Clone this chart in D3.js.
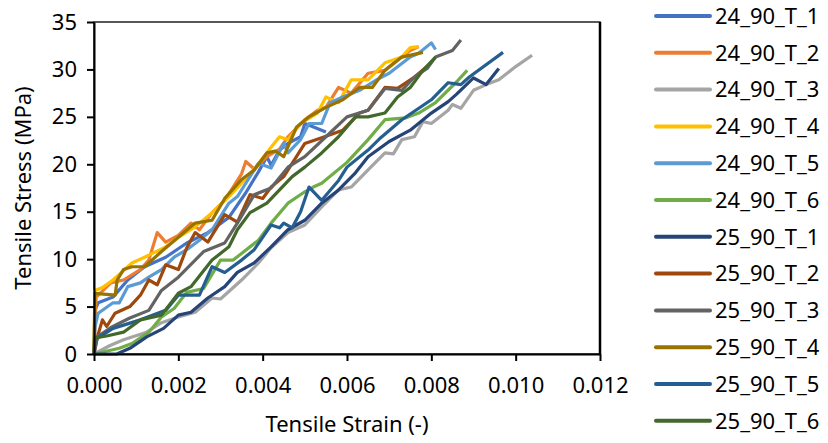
<!DOCTYPE html>
<html>
<head>
  <meta charset="utf-8">
  <title>tensile</title>
  <style>
    * { padding: 0; margin: 0; }
    body { background: #fff; }
    svg text { font-family: "Noto Sans", sans-serif; fill: #000; }
    .axis path, .axis line { stroke: #000; stroke-width: 2; }
    .axis text { font-size: 22px; }
    .series { fill: none; stroke-width: 3.2; stroke-linejoin: round; }
  </style>
</head>
<body>
  <svg id="svg"></svg>
  <script src="https://cdnjs.cloudflare.com/ajax/libs/d3/7.8.5/d3.min.js"></script>
  <script>
    // [strain, stress]
    const s24_1 = [[0,0],[0.00002,4.6],[0.0001,5.4],[0.00045,6.0],[0.0008,7.8],[0.0012,9.2],[0.0017,10.2],[0.0022,11.7],[0.0027,12.8],[0.0032,14.4],[0.0036,17.0],[0.0039,19.2],[0.0041,20.8],[0.0042,19.9],[0.0044,21.5],[0.0046,22.2],[0.0049,22.9],[0.0050,24.3],[0.0055,23.4]];
    const s24_2 = [[0,0],[0.00005,6.0],[0.0004,7.5],[0.0007,7.8],[0.0011,8.9],[0.0013,9.9],[0.0015,12.8],[0.0017,11.8],[0.0020,12.5],[0.0023,13.8],[0.0025,13.1],[0.0028,14.9],[0.0031,16.2],[0.0033,17.6],[0.0035,19.0],[0.0036,20.3],[0.0038,19.5],[0.0041,20.8],[0.0044,21.6],[0.0046,22.9],[0.0050,24.7],[0.0053,25.7],[0.0055,26.0],[0.0058,28.1],[0.0061,27.5],[0.0065,29.6],[0.0069,29.9],[0.0072,31.0],[0.0075,32.0],[0.0077,32.4]];
    const s24_3 = [[0,0],[0.00038,0.9],[0.0007,1.5],[0.00125,2.3],[0.0016,3.3],[0.0020,3.9],[0.0024,4.4],[0.0028,5.9],[0.0030,5.8],[0.0035,7.8],[0.0039,9.6],[0.0042,11.2],[0.0046,12.8],[0.0050,13.6],[0.0054,15.5],[0.0058,17.3],[0.0061,17.6],[0.0065,19.4],[0.0069,21.2],[0.0071,21.1],[0.0073,22.6],[0.0076,22.9],[0.0078,24.5],[0.0080,24.3],[0.0084,25.7],[0.0085,26.3],[0.0087,25.9],[0.0090,27.8],[0.0093,28.4],[0.0096,28.9],[0.0100,30.3],[0.01039,31.5]];
    const s24_4 = [[0,0],[0.00002,6.7],[0.0002,7.0],[0.00045,7.8],[0.0009,9.6],[0.0012,10.2],[0.0017,11.3],[0.0020,12.3],[0.0024,13.4],[0.0028,14.9],[0.0032,16.6],[0.0035,18.0],[0.0038,19.5],[0.0042,21.8],[0.0044,22.9],[0.0046,22.6],[0.0049,24.3],[0.0053,25.4],[0.0055,27.1],[0.0058,26.5],[0.0061,28.9],[0.0065,28.9],[0.0069,30.7],[0.0073,31.3],[0.0075,32.3],[0.0077,32.4]];
    const s24_5 = [[0,0],[0.00002,2.8],[0.0001,4.3],[0.00045,5.4],[0.0006,5.4],[0.0008,7.1],[0.0011,7.5],[0.0013,8.1],[0.0016,8.9],[0.0019,10.2],[0.0022,11.0],[0.0025,12.0],[0.0028,13.1],[0.0032,15.9],[0.0034,16.6],[0.0036,18.0],[0.0039,20.1],[0.0042,19.6],[0.0045,22.2],[0.0046,21.2],[0.0049,22.6],[0.0051,24.3],[0.0054,24.3],[0.0056,26.5],[0.0059,27.1],[0.0063,27.8],[0.0067,28.9],[0.0070,29.6],[0.0075,31.3],[0.0077,31.7],[0.0080,32.8],[0.0081,32.1]];
    const s24_6 = [[0,0],[0.0006,0.6],[0.0009,1.1],[0.0013,2.3],[0.0016,3.9],[0.0019,4.8],[0.0022,6.5],[0.0026,6.9],[0.0030,9.9],[0.0033,9.9],[0.0039,12.0],[0.0042,13.8],[0.0046,15.9],[0.0050,17.1],[0.0052,17.6],[0.0054,18.0],[0.0060,20.2],[0.0065,22.6],[0.0069,24.7],[0.0074,24.9],[0.0077,25.4],[0.0081,26.5],[0.0086,28.7],[0.00885,29.9]];
    const s25_1 = [[0,0],[0.00054,0],[0.00085,0.6],[0.00125,1.8],[0.00165,2.7],[0.0020,4.1],[0.0023,4.4],[0.0027,5.9],[0.0031,7.1],[0.0034,8.6],[0.0038,9.6],[0.0042,11.3],[0.0046,13.1],[0.0050,14.1],[0.0054,15.9],[0.0058,17.3],[0.0062,19.1],[0.0065,20.8],[0.0070,22.4],[0.0075,23.6],[0.0080,25.4],[0.0084,26.6],[0.0086,27.4],[0.0090,29.1],[0.0093,28.4],[0.0096,30.1]];
    const s25_2 = [[0,0],[0.00008,1.8],[0.0002,3.6],[0.0003,2.9],[0.0005,4.3],[0.00085,5.0],[0.0011,6.2],[0.0013,7.8],[0.0015,7.3],[0.0017,9.4],[0.0020,8.9],[0.0022,11.2],[0.0024,12.8],[0.0027,11.8],[0.0031,14.7],[0.0034,13.9],[0.0037,16.8],[0.0040,16.4],[0.0042,17.6],[0.0045,18.7],[0.0050,22.2],[0.0054,22.8],[0.0059,23.6],[0.0063,25.4],[0.0065,25.7],[0.0069,28.1],[0.0072,28.0],[0.0076,29.2],[0.0079,30.3]];
    const s25_3 = [[0,0],[0.00008,1.8],[0.0004,2.8],[0.00085,3.8],[0.0013,4.6],[0.0016,6.7],[0.0020,8.1],[0.0026,10.8],[0.0031,11.7],[0.0034,13.8],[0.0038,16.8],[0.0042,17.5],[0.0046,19.7],[0.0050,20.8],[0.0055,22.9],[0.0060,25.0],[0.0065,25.7],[0.0069,28.0],[0.0073,27.8],[0.0076,29.2],[0.0079,30.1],[0.0081,31.3],[0.0085,32.0],[0.0087,33.1]];
    const s25_4 = [[0,0],[0.00002,6.4],[0.0005,6.2],[0.00055,7.8],[0.0007,8.9],[0.0009,9.2],[0.0012,9.2],[0.0016,10.8],[0.0020,12.3],[0.0024,13.8],[0.0028,14.1],[0.0031,16.4],[0.0033,17.4],[0.0035,18.4],[0.0038,19.4],[0.0041,21.2],[0.0043,21.4],[0.0045,20.8],[0.0048,23.9],[0.0051,25.0],[0.0055,26.0],[0.0059,26.8],[0.0063,28.1],[0.0066,28.1],[0.0069,29.9],[0.0073,31.3],[0.0078,31.8]];
    const s25_5 = [[0,0],[0.00002,1.5],[0.00045,2.7],[0.0011,3.6],[0.0017,4.6],[0.0020,6.2],[0.0025,6.2],[0.0028,9.2],[0.0031,8.6],[0.0035,9.9],[0.0038,11.0],[0.0042,13.6],[0.0044,13.3],[0.0045,13.8],[0.0047,13.3],[0.0049,15.0],[0.0051,17.6],[0.0054,16.2],[0.0058,18.3],[0.0060,19.7],[0.0065,21.5],[0.0068,22.8],[0.0073,24.7],[0.0080,26.8],[0.0084,28.6],[0.0087,28.4],[0.0089,29.2],[0.0097,31.8]];
    const s25_6 = [[0,0],[0.00002,1.7],[0.0003,1.9],[0.0007,2.3],[0.0011,3.6],[0.0016,4.1],[0.0020,6.4],[0.0023,7.1],[0.0028,9.9],[0.0032,11.3],[0.0034,13.1],[0.0037,14.9],[0.0041,15.9],[0.0044,17.3],[0.0047,18.7],[0.0050,19.7],[0.0054,21.2],[0.0058,22.9],[0.0062,25.0],[0.0065,25.0],[0.0069,25.4],[0.0072,27.1],[0.0075,28.1],[0.0078,29.9],[0.0081,31.3]];

    const names = ['24_90_T_1', '24_90_T_2', '24_90_T_3', '24_90_T_4', '24_90_T_5', '24_90_T_6',
      '25_90_T_1', '25_90_T_2', '25_90_T_3', '25_90_T_4', '25_90_T_5', '25_90_T_6'];
    const seriesData = [s24_1, s24_2, s24_3, s24_4, s24_5, s24_6, s25_1, s25_2, s25_3, s25_4, s25_5, s25_6];
    const colors = ['#4472C4', '#ED7D31', '#A5A5A5', '#FFC000', '#5B9BD5', '#70AD47',
      '#264478', '#9E480E', '#636363', '#997300', '#255E91', '#43682B'];
    const xTicks = [0, 0.002, 0.004, 0.006, 0.008, 0.010, 0.012];
    const yTicks = [0, 5, 10, 15, 20, 25, 30, 35];

    const dim = { width: 828, height: 443, left: 94, right: 600, top: 22, bottom: 354 };

    const svg = d3.select('#svg').attr('width', dim.width).attr('height', dim.height);

    const x = d3.scaleLinear().domain([0, 0.012]).range([dim.left, dim.right]);
    const y = d3.scaleLinear().domain([0, 35]).range([dim.bottom, dim.top]);

    // plot area frame
    svg.append('rect')
      .attr('x', dim.left).attr('y', dim.top)
      .attr('width', dim.right - dim.left).attr('height', dim.bottom - dim.top)
      .attr('fill', 'none').attr('stroke', '#222').attr('stroke-width', 1.5);
    svg.append('line')
      .attr('x1', dim.right).attr('x2', dim.right).attr('y1', dim.top).attr('y2', dim.bottom)
      .attr('stroke', '#000').attr('stroke-width', 2.5);

    const line = d3.line().x(d => x(d[0])).y(d => y(d[1]));

    svg.append('g')
      .selectAll('path')
      .data(seriesData)
      .enter()
      .append('path')
      .attr('class', 'series')
      .attr('stroke', (d, i) => colors[i])
      .attr('d', line);

    svg.append('g')
      .attr('class', 'axis')
      .attr('transform', `translate(0, ${dim.bottom})`)
      .call(d3.axisBottom(x).tickValues(xTicks).tickFormat(d3.format('.3f')).tickSize(7).tickSizeOuter(0).tickPadding(16));

    svg.append('g')
      .attr('class', 'axis')
      .attr('transform', `translate(${dim.left}, 0)`)
      .call(d3.axisLeft(y).tickValues(yTicks).tickSize(7).tickSizeOuter(0).tickPadding(10));

    svg.append('text')
      .attr('transform', `translate(31, ${(dim.top + dim.bottom) / 2}) rotate(-90)`)
      .attr('text-anchor', 'middle')
      .style('font-size', '22px')
      .text('Tensile Stress (MPa)');

    svg.append('text')
      .attr('x', (dim.left + dim.right) / 2)
      .attr('y', 432)
      .attr('text-anchor', 'middle')
      .style('font-size', '22px')
      .text('Tensile Strain (-)');

    const legend = svg.append('g')
      .selectAll('g')
      .data(names)
      .enter()
      .append('g')
      .attr('transform', (d, i) => `translate(656, ${16 + i * 36.8})`);

    legend.append('line')
      .attr('x1', 0).attr('x2', 54)
      .attr('stroke', (d, i) => colors[i])
      .attr('stroke-width', 4)
      .attr('stroke-linecap', 'round');

    legend.append('text')
      .attr('x', 59)
      .attr('dy', '0.35em')
      .style('font-size', '22px')
      .text(d => d);
  </script>
</body>
</html>
